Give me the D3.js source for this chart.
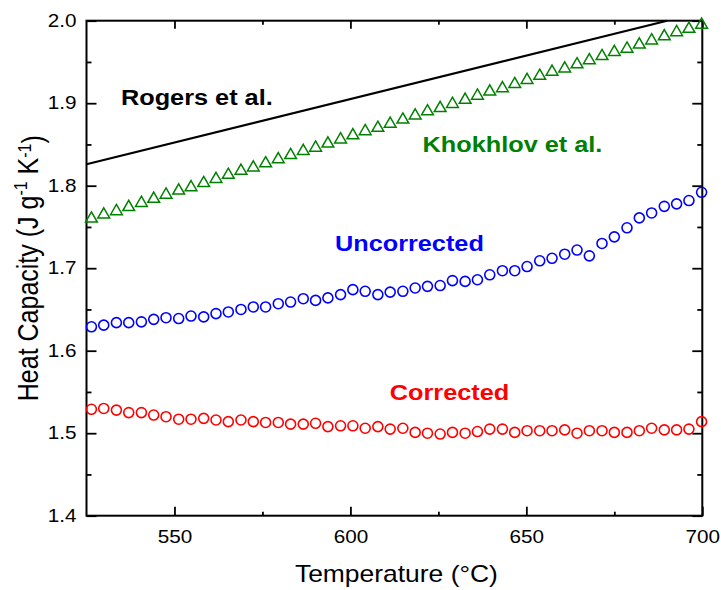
<!DOCTYPE html>
<html>
<head>
<meta charset="UTF-8">
<script src="https://d3js.org/d3.v7.min.js"></script>
<style>
  body { margin: 0; background: #fff; }
  svg text { font-family: "Liberation Sans", Arial, sans-serif; }
</style>
</head>
<body>
<svg id="chart"></svg>
<script>
// temperature of each measured point (degC)
const temps = [526.4, 529.9, 533.5, 537.0, 540.6, 544.1, 547.6, 551.2, 554.7, 558.3,
               561.8, 565.3, 568.9, 572.4, 575.9, 579.5, 583.0, 586.6, 590.1, 593.6,
               597.2, 600.7, 604.2, 607.8, 611.3, 614.9, 618.4, 621.9, 625.5, 629.0,
               632.6, 636.1, 639.6, 643.2, 646.7, 650.2, 653.8, 657.3, 660.9, 664.4,
               667.9, 671.5, 675.0, 678.6, 682.1, 685.6, 689.2, 692.7, 696.2, 699.8];

const khokhlov = [1.760, 1.765, 1.769, 1.774, 1.779, 1.784, 1.789, 1.794, 1.798, 1.803,
                  1.808, 1.813, 1.818, 1.822, 1.827, 1.832, 1.837, 1.842, 1.846, 1.851,
                  1.856, 1.861, 1.866, 1.870, 1.875, 1.880, 1.885, 1.890, 1.894, 1.899,
                  1.904, 1.909, 1.914, 1.918, 1.923, 1.928, 1.933, 1.938, 1.942, 1.947,
                  1.952, 1.957, 1.962, 1.966, 1.971, 1.976, 1.981, 1.986, 1.990, 1.995];

const uncorrected = [1.629, 1.631, 1.634, 1.634, 1.635, 1.638, 1.640, 1.639, 1.642, 1.641,
                     1.645, 1.647, 1.650, 1.653, 1.653, 1.657, 1.659, 1.663, 1.661, 1.664,
                     1.668, 1.674, 1.672, 1.668, 1.671, 1.672, 1.676, 1.678, 1.679, 1.685,
                     1.684, 1.686, 1.692, 1.697, 1.697, 1.702, 1.709, 1.712, 1.717, 1.722,
                     1.715, 1.730, 1.738, 1.749, 1.761, 1.767, 1.775, 1.778, 1.782, 1.792];

const corrected = [1.529, 1.530, 1.528, 1.525, 1.525, 1.522, 1.520, 1.517, 1.517, 1.518,
                   1.516, 1.514, 1.516, 1.514, 1.513, 1.513, 1.511, 1.511, 1.512, 1.508,
                   1.509, 1.509, 1.506, 1.508, 1.505, 1.506, 1.501, 1.500, 1.499, 1.501,
                   1.500, 1.502, 1.505, 1.505, 1.501, 1.503, 1.503, 1.503, 1.504, 1.500,
                   1.503, 1.503, 1.501, 1.501, 1.503, 1.506, 1.504, 1.504, 1.505, 1.514];

// Rogers et al. straight line
const rogersT = [525, 690];
const rogersCp = [1.826, 2.0];

const xTicks = [550, 600, 650, 700];
const xMinor = [575, 625, 675];
const yTicks = [1.4, 1.5, 1.6, 1.7, 1.8, 1.9, 2.0];
const yMinor = [1.45, 1.55, 1.65, 1.75, 1.85, 1.95];

const labelText = ["Rogers et al.", "Khokhlov et al.", "Uncorrected", "Corrected"];

const width = 721, height = 590;
const margin = { top: 20.7, right: 18.7, bottom: 74.3, left: 86.5 };
const SX = 1.15; // text in the original is drawn a bit wide

const svg = d3.select("#chart").attr("width", width).attr("height", height);

const x = d3.scaleLinear().domain([525, 700]).range([margin.left, width - margin.right]);
const y = d3.scaleLinear().domain([1.4, 2.0]).range([height - margin.bottom, margin.top]);

function widen(sel) {
    sel.each(function() {
        const t = d3.select(this);
        const tx = +t.attr("x") || 0, ty = +t.attr("y") || 0;
        t.attr("x", 0).attr("y", 0)
         .attr("transform", `translate(${tx},${ty}) scale(${SX},1)`);
    });
}

function drawAxis(axis, transform, labels) {
    const g = svg.append("g").attr("transform", transform).call(axis);
    g.select(".domain").remove();
    g.selectAll(".tick line").attr("stroke", "#000").attr("stroke-width", 1.8);
    if (labels) {
        g.selectAll(".tick text").attr("font-size", 18).attr("fill", "#000").call(widen);
    }
    return g;
}

const bottomY = height - margin.bottom, rightX = width - margin.right;

drawAxis(d3.axisBottom(x).tickValues(xTicks).tickSize(-9).tickPadding(15).tickFormat(d3.format("d")),
    `translate(0,${bottomY})`, true);
drawAxis(d3.axisBottom(x).tickValues(xMinor).tickSize(-4).tickFormat(""), `translate(0,${bottomY})`);
drawAxis(d3.axisTop(x).tickValues(xTicks).tickSize(-8).tickFormat(""), `translate(0,${margin.top})`);
drawAxis(d3.axisTop(x).tickValues(xMinor).tickSize(-4).tickFormat(""), `translate(0,${margin.top})`);

drawAxis(d3.axisLeft(y).tickValues(yTicks).tickSize(-10).tickPadding(10).tickFormat(d3.format(".1f")),
    `translate(${margin.left},0)`, true);
drawAxis(d3.axisLeft(y).tickValues(yMinor).tickSize(-5).tickFormat(""), `translate(${margin.left},0)`);
drawAxis(d3.axisRight(y).tickValues(yTicks).tickSize(-10).tickFormat(""), `translate(${rightX},0)`);
drawAxis(d3.axisRight(y).tickValues(yMinor).tickSize(-5).tickFormat(""), `translate(${rightX},0)`);

// frame
svg.append("rect")
    .attr("x", margin.left).attr("y", margin.top)
    .attr("width", rightX - margin.left).attr("height", bottomY - margin.top)
    .attr("fill", "none").attr("stroke", "#000").attr("stroke-width", 2);

// Rogers line
svg.append("path")
    .datum(d3.zip(rogersT, rogersCp))
    .attr("fill", "none").attr("stroke", "#000").attr("stroke-width", 2.2)
    .attr("d", d3.line().x(d => x(d[0])).y(d => y(d[1])));

// Khokhlov triangles
svg.append("g").selectAll("path")
    .data(d3.zip(temps, khokhlov))
    .join("path")
    .attr("transform", d => `translate(${x(d[0])},${y(d[1])})`)
    .attr("d", d3.symbol(d3.symbolTriangle, 60))
    .attr("fill", "none").attr("stroke", "#008000").attr("stroke-width", 1.5);

function circles(vals, color) {
    svg.append("g").selectAll("circle")
        .data(d3.zip(temps, vals))
        .join("circle")
        .attr("cx", d => x(d[0])).attr("cy", d => y(d[1]))
        .attr("r", 5)
        .attr("fill", "none").attr("stroke", color).attr("stroke-width", 1.6);
}
circles(uncorrected, "#0000ff");
circles(corrected, "#ff0000");

// in-plot labels, anchored in data units
const labelPos = [[534.8, 1.898], [620.5, 1.841], [595.6, 1.721], [611.2, 1.540]];
const labelColor = ["#000", "#008000", "#0000ff", "#ff0000"];
labelText.forEach((t, i) => {
    svg.append("text")
        .attr("x", x(labelPos[i][0])).attr("y", y(labelPos[i][1]))
        .attr("font-size", 22).attr("font-weight", "bold")
        .attr("fill", labelColor[i])
        .text(t)
        .call(widen);
});

// axis titles
svg.append("text")
    .attr("x", (margin.left + rightX) / 2 + 2).attr("y", 582)
    .attr("text-anchor", "middle").attr("font-size", 23)
    .text("Temperature (\u00B0C)")
    .call(widen);

const yt = svg.append("text")
    .attr("text-anchor", "middle").attr("font-size", 25)
    .attr("transform", `translate(38,${(margin.top + bottomY) / 2}) scale(${SX},1) rotate(-90)`);
yt.append("tspan").text("Heat Capacity (J g");
yt.append("tspan").attr("font-size", 16).attr("dy", "-0.6em").text("-1");
yt.append("tspan").attr("dy", "0.4em").text(" K");
yt.append("tspan").attr("font-size", 16).attr("dy", "-0.4em").text("-1");
yt.append("tspan").attr("dy", "0.4em").text(")");
</script>
</body>
</html>
